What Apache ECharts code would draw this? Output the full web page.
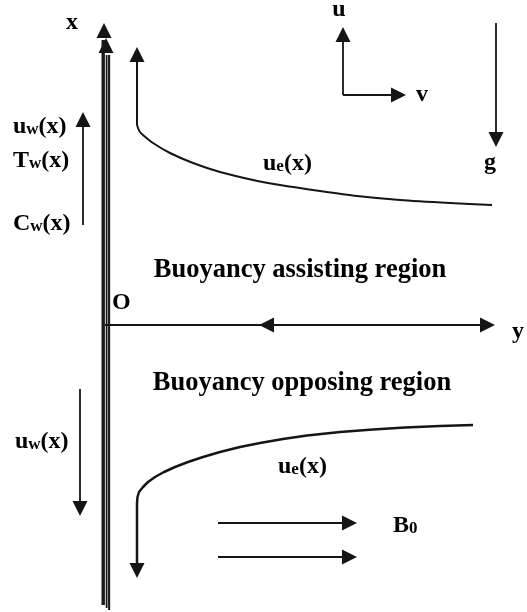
<!DOCTYPE html>
<html>
<head>
<meta charset="utf-8">
<script src="https://cdn.jsdelivr.net/npm/echarts@6/dist/echarts.min.js"></script>
<style>
html,body{margin:0;padding:0;background:#fff;}
#c{width:527px;height:612px;}
</style>
</head>
<body>
<div id="c"></div>
<script>
// ---- schematic geometry (picture units, y grows downward) ----
const plateLines = [
  [[103.2, 40], [103.2, 605]],
  [[106.6, 55], [106.6, 608]],
  [[109.1, 55], [109.1, 610]]
];
const upperEdgeCurve = [[137,60],[137,124],[138,128],[140,132],[143,135],[153,143],[170,153],[193,163],[220,172],[253,180],[280,185],[320,191],[357,196],[400,200],[450,203],[492,205]];
const lowerEdgeCurve = [[473,425],[440,426],[405,427.5],[373,429.5],[340,432],[307,435.5],[283,439],[260,443],[240,447],[220,452],[203,457],[188,462],[175,467],[164,472],[155,477],[148,482],[143,487],[139,492],[137.5,497],[137,503],[137,565]];
const arrowShafts = [
  [[343,95],[343,38]],      // u
  [[343,95],[393,95]],      // v
  [[496,23],[496,134]],     // g
  [[105,325],[482,325]],    // y axis
  [[83,225],[83,126]],      // upper u_w
  [[80,389],[80,503]],      // lower u_w
  [[218,523],[344,523]],    // B0 upper
  [[218,557],[344,557]]     // B0 lower
];
const arrowHeads = [
  {tip:[104,23], dir:'up'},
  {tip:[106,38], dir:'up'},
  {tip:[137,47], dir:'up'},
  {tip:[343,27], dir:'up'},
  {tip:[406,95], dir:'right'},
  {tip:[496,147], dir:'down'},
  {tip:[495,325], dir:'right'},
  {tip:[259,325], dir:'left'},
  {tip:[83,112], dir:'up'},
  {tip:[80,516], dir:'down'},
  {tip:[137,578], dir:'down'},
  {tip:[357,523], dir:'right'},
  {tip:[357,557], dir:'right'}
];
const labelTexts = ['x','u','v','g','ue(x)','uw(x)','Tw(x)','Cw(x)','Buoyancy assisting region','O','y','Buoyancy opposing region','uw(x)','ue(x)','B0'];
const labelAnchors = [[72,30],[339,17],[422,102],[490,170],[263,171],[13,134],[13,168],[13,231],[300,279],[112,310],[512,339],[302,392],[15,449],[278,474],[393,533]];

// ---- styling ----
const INK = '#000000';
const FONT = "'Liberation Serif','Times New Roman',serif";
const FS = 24, FS_SUB = 17, FS_BIG = 26.5;
const HEAD_LEN = 15, HEAD_W = 15;
const SYM = {
  up: 'path://M5,0L10,10L0,10Z',
  down: 'path://M0,0L10,0L5,10Z',
  right: 'path://M0,0L10,5L0,10Z',
  left: 'path://M10,0L0,5L10,10Z'
};

function lineSeries(pts, width, smooth, color) {
  return {
    type: 'line', data: pts, symbol: 'none', smooth: smooth || false,
    lineStyle: {color: color || '#151515', width: width, cap: 'butt', join: 'round'}, silent: true, z: 2
  };
}

const series = [];
plateLines.forEach((p, i) => series.push(lineSeries(p, [3.4, 1.8, 2.1][i], false, '#1a1a1a')));
series.push(lineSeries(upperEdgeCurve, 2, 0.25));
series.push(lineSeries(lowerEdgeCurve, 2.5, false));
arrowShafts.forEach(p => series.push(lineSeries(p, 1.8)));

// arrow heads
series.push({
  type: 'scatter', silent: true, z: 3,
  data: arrowHeads.map(a => {
    const [tx, ty] = a.tip;
    let c, size;
    if (a.dir === 'up') { c = [tx, ty + HEAD_LEN / 2]; size = [HEAD_W, HEAD_LEN]; }
    else if (a.dir === 'down') { c = [tx, ty - HEAD_LEN / 2]; size = [HEAD_W, HEAD_LEN]; }
    else if (a.dir === 'right') { c = [tx - HEAD_LEN / 2, ty]; size = [HEAD_LEN, HEAD_W]; }
    else { c = [tx + HEAD_LEN / 2, ty]; size = [HEAD_LEN, HEAD_W]; }
    return {value: c, symbol: SYM[a.dir], symbolSize: size, itemStyle: {color: '#151515', opacity: 1}};
  })
});

// text labels
const rich = {
  m: {fontFamily: FONT, fontWeight: 'bold', fontSize: FS, lineHeight: FS, color: INK, opacity: 1},
  s: {fontFamily: FONT, fontWeight: 'bold', fontSize: FS_SUB, lineHeight: FS_SUB, color: INK, opacity: 1, verticalAlign: 'bottom'},
  b: {fontFamily: FONT, fontWeight: 'bold', fontSize: FS_BIG, lineHeight: FS_BIG, color: INK, opacity: 1}
};
function fmt(t) {
  if (t.length > 6) return '{b|' + t + '}';
  const m = t.match(/^([uTCB])([we0])(.*)$/);
  if (m) return '{m|' + m[1] + '}{s|' + m[2] + '}' + (m[3] ? '{m|' + m[3] + '}' : '');
  return '{m|' + t + '}';
}
const centered = {'x':1,'u':1,'v':1,'g':1,'Buoyancy assisting region':1,'Buoyancy opposing region':1};
series.push({
  type: 'scatter', silent: true, symbolSize: 0, z: 4,
  itemStyle: {opacity: 1},
  data: labelTexts.map((t, i) => {
    const big = t.length > 6;
    const [ax, by] = labelAnchors[i];
    const y = by - (big ? FS_BIG : FS) * 0.32;
    return {
      value: [ax, y],
      label: {
        show: true, position: [0, 0], formatter: fmt(t), rich: rich,
        color: INK, opacity: 1, textBorderWidth: 0,
        align: centered[t] ? 'center' : 'left', verticalAlign: 'middle'
      }
    };
  })
});

const chart = echarts.init(document.getElementById('c'), null, {renderer: 'canvas'});
chart.setOption({
  animation: false,
  backgroundColor: '#ffffff',
  grid: {left: 0, right: 0, top: 0, bottom: 0, containLabel: false},
  xAxis: {type: 'value', min: 0, max: 527, show: false},
  yAxis: {type: 'value', min: 0, max: 612, inverse: true, show: false},
  series: series
});
</script>
</body>
</html>
